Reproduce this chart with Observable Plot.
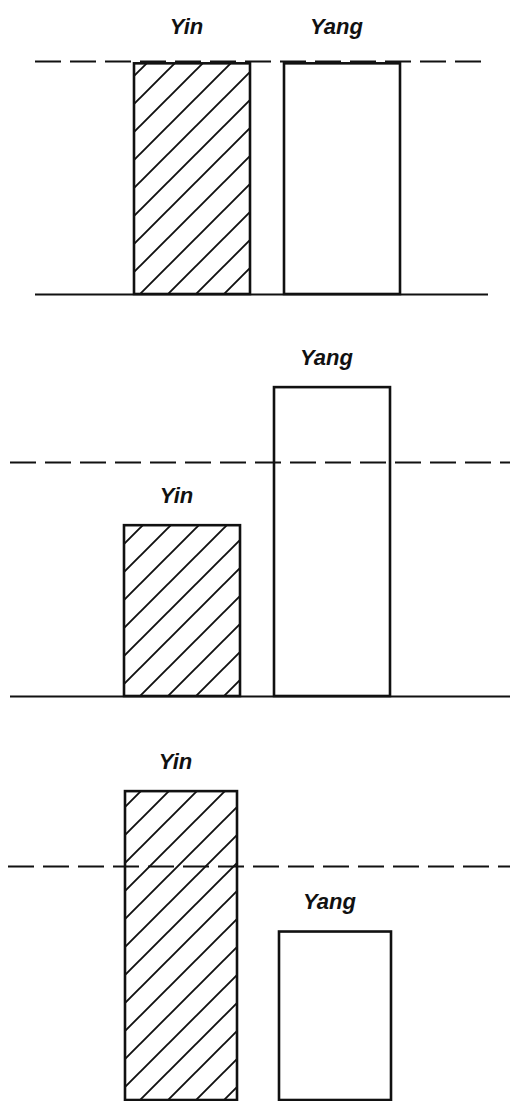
<!DOCTYPE html>
<html>
<head>
<meta charset="utf-8">
<script src="https://cdn.jsdelivr.net/npm/d3@7"></script>
<script src="https://cdn.jsdelivr.net/npm/@observablehq/plot@0.6"></script>
<style>
  html, body { margin: 0; padding: 0; background: #fff; }
  #chart svg { display: block; }
</style>
</head>
<body>
<div id="chart"></div>
<script>
// Data: three scenarios of Yin and Yang relative to a balance line (= 100)
const categories = ["Yin", "Yang"];
const panelNames = ["Balance", "Excess of Yang", "Excess of Yin"];
const yinValues = [99, 73, 132];
const yangValues = [99, 132, 72];
const balanceLevel = 100;

// Layout per panel (pixels; not data)
const layout = [
  {height: 330, base: 294, ref: 61, xr: [134, 400], pad: 0.23, ml: 35, mr: 22, baseline: true, labelDy: -30},
  {height: 390, base: 366, ref: 132, xr: [124, 391], pad: 0.225, ml: 10, mr: 0, baseline: true, labelDy: -23},
  {height: 381, base: 380, ref: 146, xr: [124, 392], pad: 0.27, ml: 8, mr: 0, baseline: false, labelDy: -23}
];

const font = "'Liberation Sans', Arial, Helvetica, sans-serif";
const container = document.getElementById("chart");

panelNames.forEach((name, i) => {
  const L = layout[i];
  const rows = categories.map((c, j) => ({panel: name, cat: c, value: j === 0 ? yinValues[i] : yangValues[i]}));
  const pid = "hatch" + i;
  const marks = [
    Plot.barY(rows, {
      x: "cat", y: "value",
      fill: d => d.cat === "Yin" ? `url(#${pid})` : "white",
      stroke: "#111", strokeWidth: 2.6, insetLeft: 0, insetRight: 0
    }),
    Plot.ruleY([balanceLevel], {stroke: "#111", strokeWidth: 2, strokeDasharray: "26,9"}),
    Plot.text(rows, {
      x: "cat", y: "value", text: "cat", dx: -6, dy: L.labelDy,
      lineAnchor: "bottom", fontSize: 22, fontWeight: "bold", fontStyle: "italic",
      fontFamily: font, fill: "#111"
    })
  ];
  if (L.baseline) marks.push(Plot.ruleY([0], {stroke: "#111", strokeWidth: 1.8}));
  const svg = Plot.plot({
    width: 510,
    height: L.height,
    marginLeft: L.ml, marginRight: L.mr, marginTop: 0, marginBottom: 0,
    x: {type: "band", domain: categories, range: L.xr, paddingInner: L.pad, paddingOuter: 0, axis: null},
    y: {type: "linear", domain: [0, balanceLevel], range: [L.base, L.ref], axis: null, clamp: false},
    style: {background: "white", fontFamily: font, overflow: "visible"},
    marks
  });
  d3.select(svg).insert("defs", ":first-child").html(
    `<pattern id="${pid}" patternUnits="userSpaceOnUse" x="0" y="${L.base}" width="28" height="28">
       <path d="M0,28 L28,0 M-3,3 L3,-3 M25,31 L31,25" stroke="#111" stroke-width="1.9" fill="none"/>
     </pattern>`
  );
  container.appendChild(svg);
});
</script>
</body>
</html>
